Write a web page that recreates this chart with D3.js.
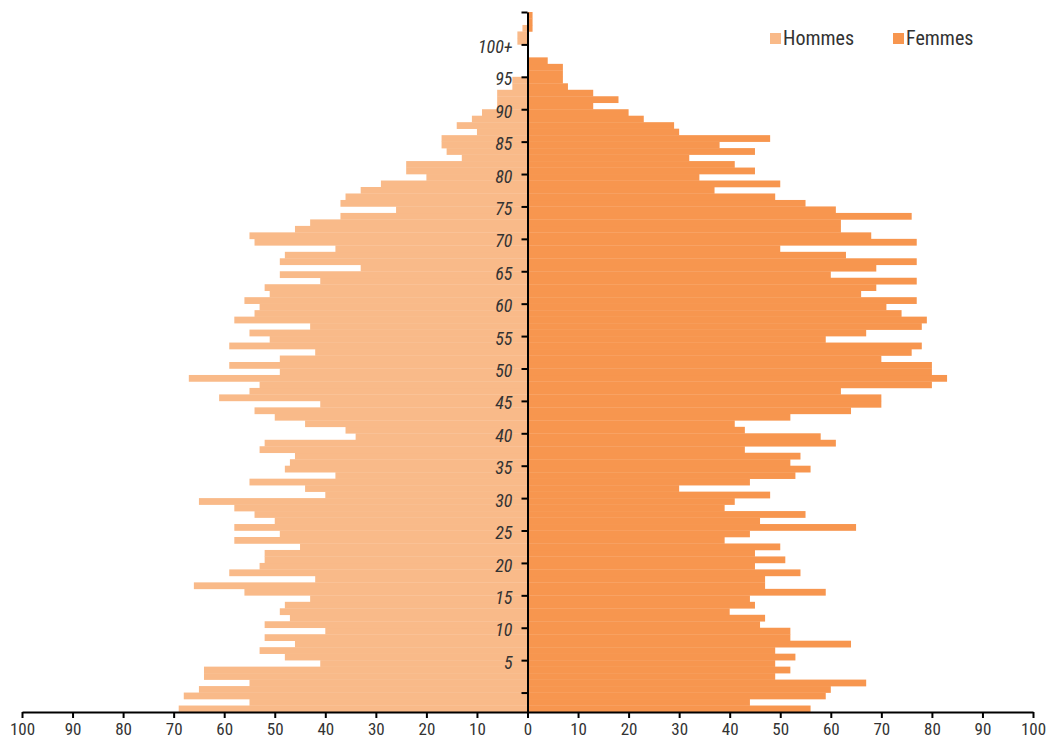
<!DOCTYPE html>
<html>
<head>
<meta charset="utf-8">
<script src="https://cdn.jsdelivr.net/npm/d3@7"></script>
<style>
  body { margin: 0; background: #fff; }
  .canvas text { font-family: "Liberation Sans Narrow", "Roboto Condensed", "Liberation Sans", sans-serif; fill: #333; }
</style>
</head>
<body>
<div class="canvas"></div>
<script>
/* ----------- DATA ----------- */
// one value per row, bottom row first (row 3 sits on the unlabelled "0" tick)
const hommes = [69, 55, 68, 65, 55, 64, 64, 41, 48, 53,
    46, 52, 40, 52, 47, 49, 48, 43, 56, 66,
    42, 59, 53, 52, 52, 45, 58, 49, 58, 50,
    54, 58, 65, 40, 44, 55, 38, 48, 47, 46,
    53, 52, 34, 36, 44, 50, 54, 41, 61, 55,
    53, 67, 49, 59, 49, 42, 59, 51, 55, 43,
    58, 54, 53, 56, 51, 52, 41, 49, 33, 49,
    48, 38, 54, 55, 46, 43, 37, 26, 37, 36,
    33, 29, 20, 24, 24, 13, 16, 17, 17, 10,
    14, 11, 9, 6, 6, 6, 3, 3, 0, 0,
    0, 0, 0, 2, 2, 1, 0, 0];

const femmes = [56, 44, 59, 60, 67, 49, 52, 49, 53, 49,
    64, 52, 52, 46, 47, 40, 45, 44, 59, 47,
    47, 54, 45, 51, 45, 50, 39, 44, 65, 46,
    55, 39, 41, 48, 30, 44, 53, 56, 52, 54,
    43, 61, 58, 43, 41, 52, 64, 70, 70, 62,
    80, 83, 80, 80, 70, 76, 78, 59, 67, 78,
    79, 74, 71, 77, 66, 69, 77, 60, 69, 77,
    63, 50, 77, 68, 62, 62, 76, 61, 55, 49,
    37, 50, 34, 45, 41, 32, 45, 38, 48, 30,
    29, 23, 20, 13, 18, 13, 8, 7, 7, 7,
    4, 0, 0, 0, 0, 1, 1, 1];

// y ticks sit on row boundaries
const yTickRows = [3, 8, 13, 18, 23, 28, 33, 38, 43, 48, 53, 58, 63, 68, 73, 78, 83, 88, 93, 98, 103, 108];
const yTickLabels = ['', '5', '10', '15', '20', '25', '30', '35', '40', '45', '50',
    '55', '60', '65', '70', '75', '80', '85', '90', '95', '100+', ''];

const xTickValues = [-100, -90, -80, -70, -60, -50, -40, -30, -20, -10, 0,
    10, 20, 30, 40, 50, 60, 70, 80, 90, 100];

const series = [
    { name: 'Hommes', values: hommes, sign: -1, color: '#F9BA89' },
    { name: 'Femmes', values: femmes, sign: 1, color: '#F7964F' }
];

/* ----------- CONTAINER ----------- */
const width = 1046, height = 739;
const svg = d3.select('.canvas')
    .append('svg')
    .attr('width', width)
    .attr('height', height);

/* ----------- SCALES & AXES ----------- */
const x = d3.scaleLinear()
    .domain([-100, 100])
    .range([22, 1033]);

const y = d3.scaleLinear()
    .domain([0, hommes.length])
    .range([712, 12]);

/* ----------- BARS ----------- */
series.forEach(s => {
    svg.append('g')
        .selectAll('rect')
        .data(s.values)
        .enter()
        .append('rect')
        .attr('x', d => s.sign < 0 ? x(-d) : x(0))
        .attr('width', d => Math.abs(x(s.sign * d) - x(0)))
        .attr('y', (d, i) => y(i + 1))
        .attr('height', (d, i) => y(i) - y(i + 1) + 0.3)
        .attr('fill', s.color);
});

// axes
const xAxis = d3.axisBottom(x)
    .tickValues(xTickValues)
    .tickFormat(d => Math.abs(d))
    .tickSize(6)
    .tickSizeOuter(0)
    .tickPadding(5);

const yAxis = d3.axisLeft(y)
    .tickValues(yTickRows)
    .tickFormat((d, i) => yTickLabels[i])
    .tickSize(6)
    .tickSizeOuter(0)
    .tickPadding(9);

const xAxisGroup = svg.append('g')
    .attr('transform', `translate(0,${y(0)})`)
    .call(xAxis);

const yAxisGroup = svg.append('g')
    .attr('transform', `translate(${x(0)},0)`)
    .call(yAxis);

[xAxisGroup, yAxisGroup].forEach(g => {
    g.select('.domain').attr('stroke', '#000').attr('stroke-width', 2);
    g.selectAll('.tick line').attr('stroke', '#000').attr('stroke-width', 2);
    g.selectAll('text').attr('fill', '#333');
});
svg.selectAll('.tick text').attr('font-family', null);
xAxisGroup.selectAll('text').attr('font-size', 17);
yAxisGroup.selectAll('text')
    .attr('font-size', 18)
    .attr('font-style', 'italic')
    .attr('dy', '0.45em');

/* ----------- LEGEND ----------- */
const legend = svg.append('g')
    .attr('transform', 'translate(770,33)');

const items = legend.selectAll('g')
    .data(series)
    .enter()
    .append('g')
    .attr('transform', (d, i) => `translate(${i * 123},0)`);

items.append('rect')
    .attr('width', 11)
    .attr('height', 11)
    .attr('fill', d => d.color);

items.append('text')
    .attr('x', 13)
    .attr('y', 12)
    .attr('font-size', 20)
    .text(d => d.name);
</script>
</body>
</html>
